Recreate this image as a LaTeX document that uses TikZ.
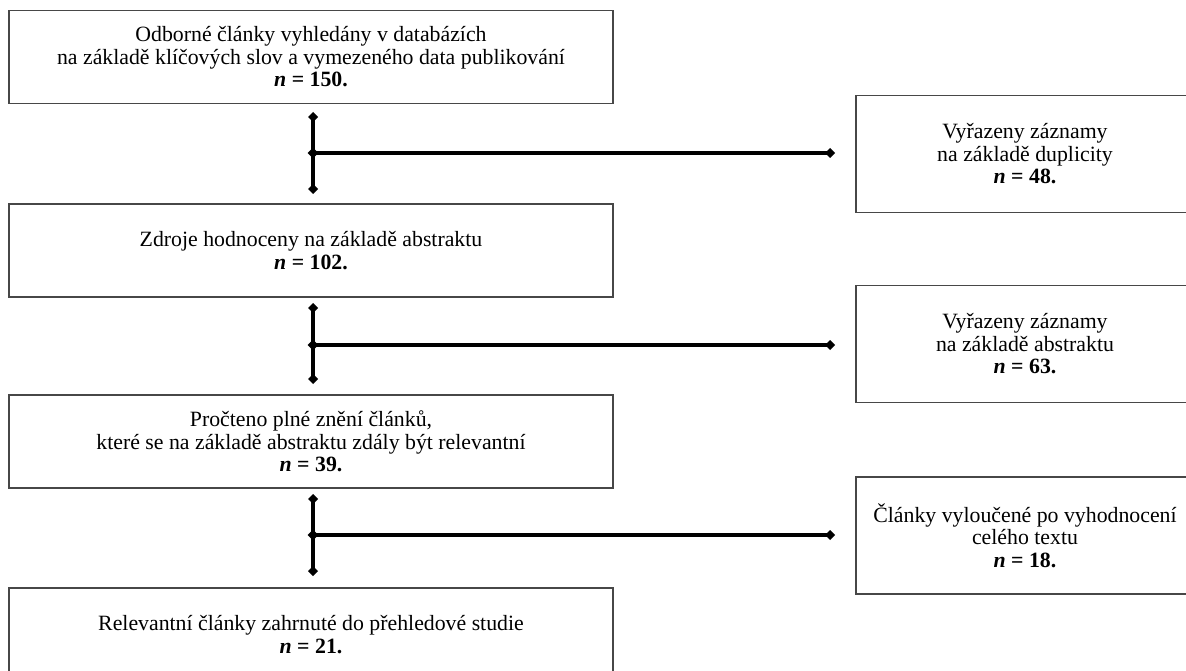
\documentclass[tikz,border=0pt]{standalone}
\usepackage{fontspec}
\setmainfont{Liberation Serif}
\usetikzlibrary{arrows.meta,shapes.geometric}
\begin{document}
\begin{tikzpicture}[x=1pt,y=-1pt,
  box/.style={draw=black!72, line width=1.3pt, rectangle, inner sep=0pt,
    align=center, font=\fontsize{21.8}{22.5}\selectfont},
  leftbox/.style={box, minimum width=604pt, minimum height=93pt},
  rightbox/.style={box, minimum width=338pt, minimum height=117pt},
  conn/.style={line width=4pt, black},
  junction/.style={diamond, fill=black, inner sep=0pt, minimum size=11pt}]
\useasboundingbox (0,0) rectangle (1186,671);
% left column
\node[leftbox] (a) at (311,57) {Odborné články vyhledány v databázích\\na základě klíčových slov a vymezeného data publikování\\\textbf{\textit{n} = 150.}};
\node[leftbox] (b) at (311,250.5) {Zdroje hodnoceny na základě abstraktu\\\textbf{\textit{n} = 102.}};
\node[leftbox] (c) at (311,441.5) {Pročteno plné znění článků,\\které se na základě abstraktu zdály být relevantní\\\textbf{\textit{n} = 39.}};
\node[leftbox] (d) at (311,634.5) {Relevantní články zahrnuté do přehledové studie\\\textbf{\textit{n} = 21.}};
% right column
\node[rightbox] (r1) at (1025,154) {Vyřazeny záznamy\\na základě duplicity\\\textbf{\textit{n} = 48.}};
\node[rightbox] (r2) at (1025,344) {Vyřazeny záznamy\\na základě abstraktu\\\textbf{\textit{n} = 63.}};
\node[rightbox] (r3) at (1025,535.5) {Články vyloučené po vyhodnocení\\celého textu\\\textbf{\textit{n} = 18.}};
% connector 1
\coordinate (t1) at (313,112);
\coordinate (u1) at (313,194);
\node[junction] (j1) at (313,153) {};
\coordinate (e1) at (835,153);
\draw[conn,{Diamond[length=10pt,width=10pt]}-{Diamond[length=10pt,width=10pt]}] (t1) -- (u1);
\draw[conn,-{Diamond[length=10pt,width=10pt]}] (j1.center) -- (e1);
% connector 2
\coordinate (t2) at (313,303);
\coordinate (u2) at (313,384);
\node[junction] (j2) at (313,345) {};
\coordinate (e2) at (835,345);
\draw[conn,{Diamond[length=10pt,width=10pt]}-{Diamond[length=10pt,width=10pt]}] (t2) -- (u2);
\draw[conn,-{Diamond[length=10pt,width=10pt]}] (j2.center) -- (e2);
% connector 3
\coordinate (t3) at (313,494);
\coordinate (u3) at (313,576);
\node[junction] (j3) at (313,535) {};
\coordinate (e3) at (835,535);
\draw[conn,{Diamond[length=10pt,width=10pt]}-{Diamond[length=10pt,width=10pt]}] (t3) -- (u3);
\draw[conn,-{Diamond[length=10pt,width=10pt]}] (j3.center) -- (e3);
\end{tikzpicture}
\end{document}
